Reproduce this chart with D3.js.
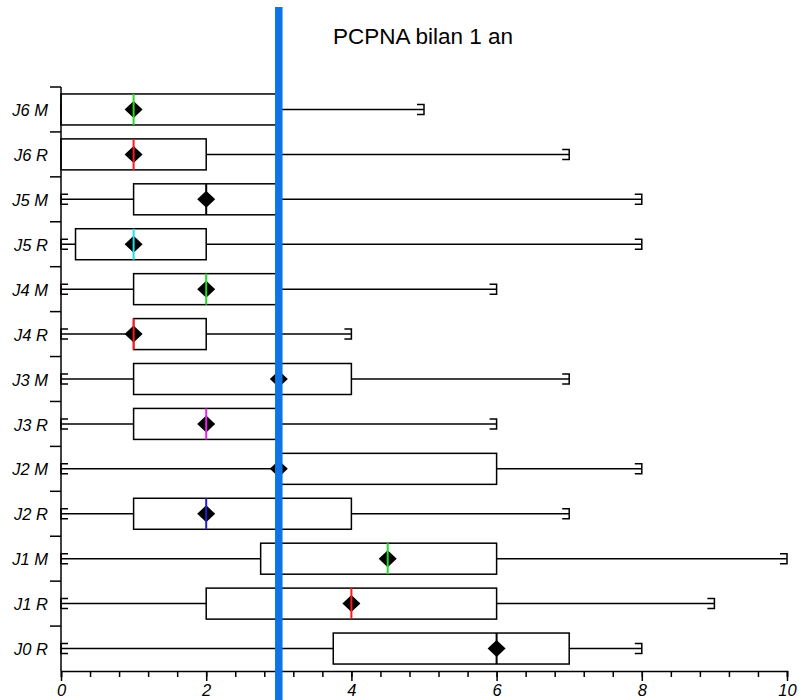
<!DOCTYPE html>
<html>
<head>
<meta charset="utf-8">
<script src="https://cdn.jsdelivr.net/npm/d3@7"></script>
<style>
  body { margin: 0; background: #fff; }
  svg { display: block; font-family: "Liberation Sans", Arial, sans-serif; }
</style>
</head>
<body>
<svg id="chart" width="802" height="700"></svg>
<script>
// categories top to bottom
var categories = ["J6 M", "J6 R", "J5 M", "J5 R", "J4 M", "J4 R", "J3 M", "J3 R", "J2 M", "J2 R", "J1 M", "J1 R", "J0 R"];
var whiskerLow  = [0, 0, 0, 0, 0, 0, 0, 0, 0, 0, 0, 0, 0];
var q1          = [0, 0, 1, 0.2, 1, 1, 1, 1, 3, 1, 2.75, 2, 3.75];
var median      = [1, 1, 2, 1, 2, 1, 3, 2, 3, 2, 4.5, 4, 6];
var q3          = [3, 2, 3, 2, 3, 2, 4, 3, 6, 4, 6, 6, 7];
var whiskerHigh = [5, 7, 8, 8, 6, 4, 7, 6, 8, 7, 10, 9, 8];
var mean        = [1, 1, 2, 1, 2, 1, 3, 2, 3, 2, 4.5, 4, 6];
var medianColor = ["#22dd22", "#ff1a1a", "#000000", "#22ddee", "#22dd22", "#ff1a1a", "#000000",
                   "#ee22ee", "#000000", "#2222cc", "#22dd22", "#ff1a1a", "#000000"];
var refValue = 3;
var title = "PCPNA bilan 1 an";
var xMajorTicks = [0, 2, 4, 6, 8, 10];

var svg = d3.select("#chart");

var x = d3.scaleLinear().domain([0, 10]).range([61, 787]);
var y = d3.scaleBand().domain(categories).range([87, 671]).padding(0);

var rows = categories.map(function(c, i) {
    return { cat: c, lo: whiskerLow[i], q1: q1[i], med: median[i], q3: q3[i],
             hi: whiskerHigh[i], mean: mean[i], color: medianColor[i] };
});

var boxH = y.bandwidth() * 0.69;
var capH = 5, capW = 7;

var g = svg.append("g");

// whiskers
rows.forEach(function(d) {
    var cy = y(d.cat) + y.bandwidth() / 2;
    var w = g.append("g").attr("stroke", "#000").attr("stroke-width", 1.5).attr("fill", "none");
    w.append("line").attr("x1", x(d.lo)).attr("x2", x(d.q1)).attr("y1", cy).attr("y2", cy);
    w.append("line").attr("x1", x(d.q3)).attr("x2", x(d.hi)).attr("y1", cy).attr("y2", cy);
    // low cap "E"
    w.append("path").attr("d",
        "M" + (x(d.lo) + capW) + "," + (cy - capH) + "H" + x(d.lo) + "V" + (cy + capH) + "H" + (x(d.lo) + capW));
    // high cap
    w.append("path").attr("d",
        "M" + (x(d.hi) - capW) + "," + (cy - capH) + "H" + x(d.hi) + "V" + (cy + capH) + "H" + (x(d.hi) - capW));
});

// boxes
g.selectAll("rect.box").data(rows).join("rect")
    .attr("class", "box")
    .attr("x", d => x(d.q1))
    .attr("width", d => x(d.q3) - x(d.q1))
    .attr("y", d => y(d.cat) + (y.bandwidth() - boxH) / 2)
    .attr("height", boxH)
    .attr("fill", "#fff")
    .attr("stroke", "#000")
    .attr("stroke-width", 1.5);

// means (diamonds)
g.selectAll("path.mean").data(rows).join("path")
    .attr("class", "mean")
    .attr("d", function(d) {
        var cx = x(d.mean), cy = y(d.cat) + y.bandwidth() / 2;
        return "M" + (cx - 9) + "," + cy + "L" + cx + "," + (cy - 8.5) + "L" + (cx + 9) + "," + cy + "L" + cx + "," + (cy + 8.5) + "Z";
    })
    .attr("fill", "#000");

// medians
g.selectAll("line.med").data(rows).join("line")
    .attr("class", "med")
    .attr("x1", d => x(d.med)).attr("x2", d => x(d.med))
    .attr("y1", d => y(d.cat) + (y.bandwidth() - boxH) / 2)
    .attr("y2", d => y(d.cat) + (y.bandwidth() + boxH) / 2)
    .attr("stroke", d => d.color)
    .attr("stroke-width", 2);

// x axis: minor + major ticks
var xMinor = svg.append("g").attr("transform", "translate(0,671)")
    .call(d3.axisBottom(x).tickValues(d3.range(0, 10.001, 0.4)).tickSize(6).tickFormat(""));
xMinor.selectAll("line").attr("stroke-width", 1.5);
xMinor.select(".domain").attr("stroke-width", 1.5);

var xMajor = svg.append("g").attr("transform", "translate(0,671)")
    .call(d3.axisBottom(x).tickValues(xMajorTicks).tickSize(10).tickPadding(3).tickFormat(d3.format("d")));
xMajor.select(".domain").remove();
xMajor.selectAll("line").attr("stroke-width", 1.5);
xMajor.selectAll("text").attr("font-size", 16.5).attr("font-style", "italic")
    .attr("font-family", "'Liberation Sans', Arial, sans-serif");

// y axis
var yAxis = svg.append("g").attr("transform", "translate(61,0)")
    .call(d3.axisLeft(y).tickSize(0).tickPadding(13));
yAxis.select(".domain").attr("stroke-width", 1.5).attr("d", "M0," + y.range()[0] + "V" + y.range()[1]);
yAxis.selectAll("text").attr("font-size", 16.5).attr("font-style", "italic").attr("dy", "0.4em")
    .attr("font-family", "'Liberation Sans', Arial, sans-serif");

svg.append("g").selectAll("line").data(categories).join("line")
    .attr("x1", 50).attr("x2", 61)
    .attr("y1", d => y(d)).attr("y2", d => y(d))
    .attr("stroke", "#000").attr("stroke-width", 1.5);

// reference line
svg.append("line")
    .attr("x1", x(refValue)).attr("x2", x(refValue))
    .attr("y1", 7).attr("y2", 700)
    .attr("stroke", "#0b74e6").attr("stroke-width", 7.5);

// title
svg.append("text")
    .attr("x", 423).attr("y", 44)
    .attr("text-anchor", "middle")
    .attr("font-size", 22.5)
    .text(title);
</script>
</body>
</html>
